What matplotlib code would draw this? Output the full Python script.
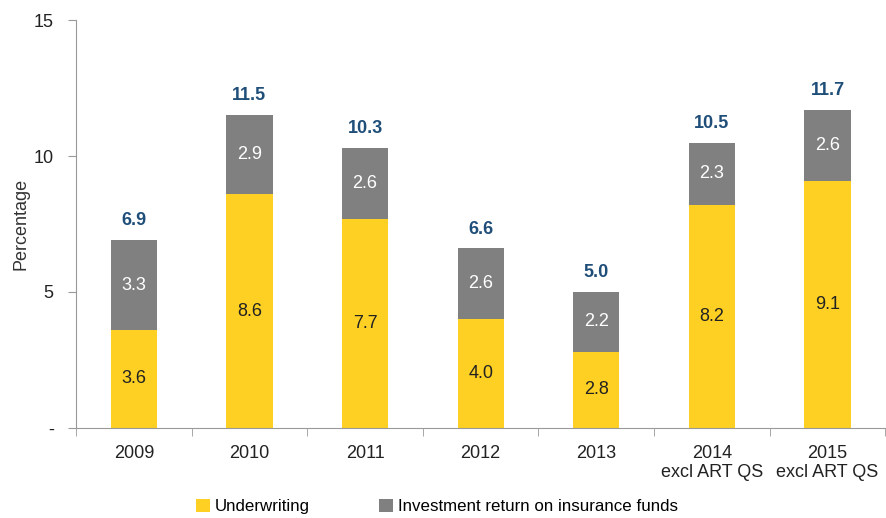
import matplotlib
matplotlib.use('Agg')
import matplotlib.pyplot as plt
from matplotlib.font_manager import fontManager
import numpy as np

# Dữ liệu
categories = ['2009', '2010', '2011', '2012', '2013', '2014\nexcl ART QS', '2015\nexcl ART QS']
underwriting = [3.6, 8.6, 7.7, 4.0, 2.8, 8.2, 9.1]
investment = [3.3, 2.9, 2.6, 2.6, 2.2, 2.3, 2.6]
totals = [6.9, 11.5, 10.3, 6.6, 5.0, 10.5, 11.7]

names = {f.name for f in fontManager.ttflist}
fam = ['Liberation Sans Narrow'] if 'Liberation Sans Narrow' in names else ['Liberation Sans']
plt.rcParams['font.family'] = fam + ['DejaVu Sans']

yellow = '#FDD023'
grey = '#808080'
blue = '#1F4E79'

fig = plt.figure(figsize=(8.87, 5.18), dpi=100)
ax = fig.add_axes([0.0857, 0.174, 0.915, 0.787])

x = np.arange(len(categories))
w = 0.4
ax.bar(x, underwriting, w, color=yellow, label='Underwriting')
ax.bar(x, investment, w, bottom=underwriting, color=grey, label='Investment return on insurance funds')

for i in range(len(x)):
    ax.text(x[i], underwriting[i] / 2, f'{underwriting[i]:.1f}', ha='center', va='center',
            fontsize=13, color='#222222')
    ax.text(x[i], underwriting[i] + investment[i] / 2, f'{investment[i]:.1f}', ha='center',
            va='center', fontsize=13, color='white')
    ax.text(x[i], totals[i] + 0.4, f'{totals[i]:.1f}', ha='center', va='bottom',
            fontsize=13, fontweight='bold', color=blue)

ax.set_xlim(-0.5, len(x) - 0.48)
ax.set_ylim(0, 15)
ax.set_yticks([0, 5, 10, 15])
ax.set_yticklabels(['-', '5', '10', '15'])
ax.set_xticks(x)
ax.set_xticklabels(categories)
ax.set_xticks(np.arange(len(x) + 1) - 0.5, minor=True)
ax.tick_params(axis='x', which='major', length=0, pad=12, labelsize=13, colors='#222222')
ax.tick_params(axis='x', which='minor', length=6, color='#999999')
ax.tick_params(axis='y', length=6, pad=10, color='#999999', labelsize=13, colors='#222222')
ax.set_ylabel('Percentage', fontsize=13, color='#333333', labelpad=3)

for s in ['top', 'right']:
    ax.spines[s].set_visible(False)
for s in ['left', 'bottom']:
    ax.spines[s].set_color('#999999')

fig.legend(loc='lower left', bbox_to_anchor=(0.204, -0.022), ncol=2, frameon=False,
           fontsize=12.2, handlelength=0.8, handleheight=0.8, handletextpad=0.3,
           columnspacing=4.1)

fig.savefig('out.png', dpi=100)
